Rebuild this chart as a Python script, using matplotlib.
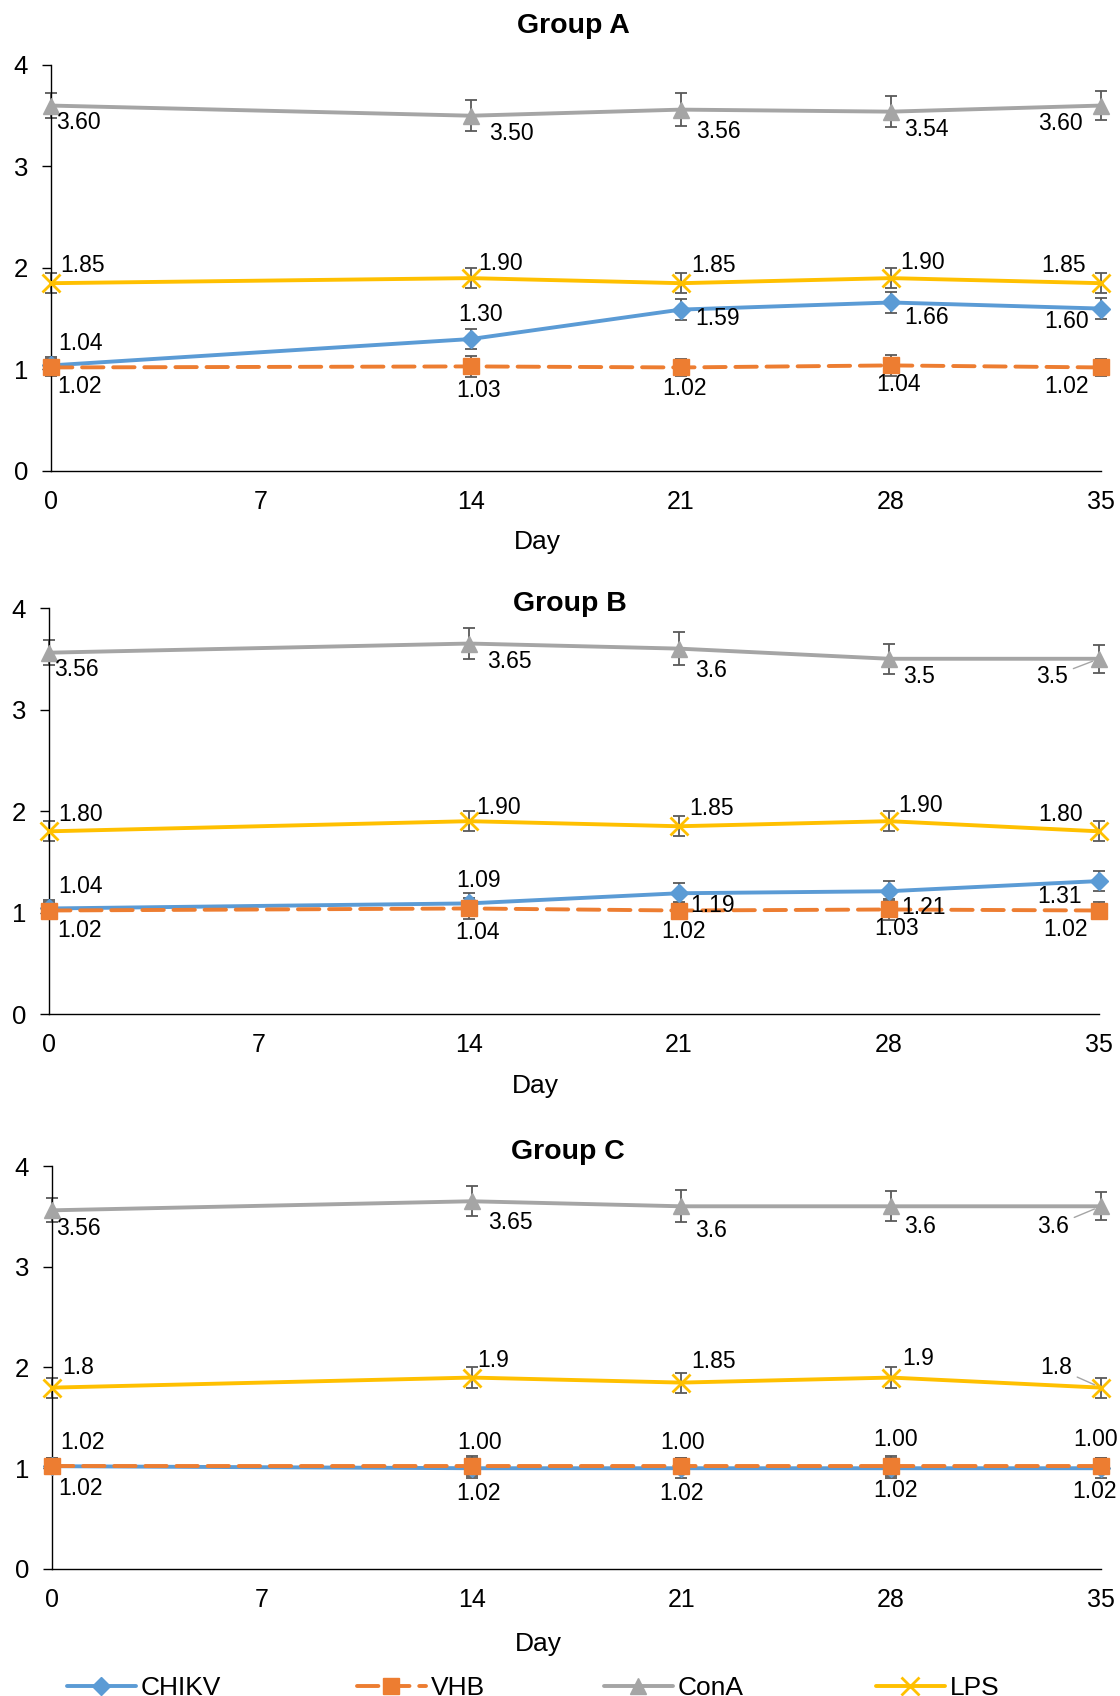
import matplotlib.pyplot as plt

plt.rcParams['font.family'] = ['Liberation Sans', 'DejaVu Sans']

days = [0, 14, 21, 28, 35]
xticks = [0, 7, 14, 21, 28, 35]
yticks = [0, 1, 2, 3, 4]
groups = ['Group A', 'Group B', 'Group C']
series = ['CHIKV', 'VHB', 'ConA', 'LPS']

# Group A
chikv_a = [1.04, 1.30, 1.59, 1.66, 1.60]
vhb_a = [1.02, 1.03, 1.02, 1.04, 1.02]
cona_a = [3.60, 3.50, 3.56, 3.54, 3.60]
lps_a = [1.85, 1.90, 1.85, 1.90, 1.85]
# Group B
chikv_b = [1.04, 1.09, 1.19, 1.21, 1.31]
vhb_b = [1.02, 1.04, 1.02, 1.03, 1.02]
cona_b = [3.56, 3.65, 3.6, 3.5, 3.5]
lps_b = [1.80, 1.90, 1.85, 1.90, 1.80]
# Group C
chikv_c = [1.02, 1.00, 1.00, 1.00, 1.00]
vhb_c = [1.02, 1.02, 1.02, 1.02, 1.02]
cona_c = [3.56, 3.65, 3.6, 3.6, 3.6]
lps_c = [1.8, 1.9, 1.85, 1.9, 1.8]

# error bars
chikv_err = [0.08, 0.10, 0.10, 0.10, 0.10]
vhb_err = [0.08, 0.10, 0.08, 0.10, 0.08]
cona_err = [0.12, 0.15, 0.16, 0.15, 0.14]
lps_err = [0.10, 0.10, 0.10, 0.10, 0.10]

data = {
    'Group A': {'CHIKV': chikv_a, 'VHB': vhb_a, 'ConA': cona_a, 'LPS': lps_a},
    'Group B': {'CHIKV': chikv_b, 'VHB': vhb_b, 'ConA': cona_b, 'LPS': lps_b},
    'Group C': {'CHIKV': chikv_c, 'VHB': vhb_c, 'ConA': cona_c, 'LPS': lps_c},
}
errs = {'CHIKV': chikv_err, 'VHB': vhb_err, 'ConA': cona_err, 'LPS': lps_err}

# label formats: Excel "general" where the source drops trailing zeros
general = {('Group B', 'ConA'), ('Group C', 'ConA'), ('Group C', 'LPS')}

styles = {
    'CHIKV': dict(color='#5B9BD5', marker='D', ms=9, lw=2.8, ls='-'),
    'VHB': dict(color='#ED7D31', marker='s', ms=12, lw=2.8, ls=(0, (5.5, 2.5))),
    'ConA': dict(color='#A5A5A5', marker='^', ms=12, lw=2.8, ls='-'),
    'LPS': dict(color='#FFC000', marker='x', ms=13, mew=2, lw=2.8, ls='-'),
}

# label centre offsets from the point, in pixels (+y is downward)
offs = {
    'Group A': {
        'ConA': [(27, 17), (40, 18), (37, 22), (35, 18), (-41, 18)],
        'LPS': [(32, -18), (30, -15), (33, -18), (32, -16), (-37, -18)],
        'CHIKV': [(30, -22), (10, -25), (37, 9), (36, 15), (-34, 13)],
        'VHB': [(29, 19), (8, 24), (4, 21), (8, 19), (-34, 19)],
    },
    'Group B': {
        'ConA': [(27, 17), (40, 18), (32, 22), (30, 18), (-47, 18)],
        'LPS': [(32, -17), (30, -14), (33, -18), (32, -16), (-38, -17)],
        'CHIKV': [(31, -22), (10, -23), (34, 12), (34, 16), (-39, 15)],
        'VHB': [(30, 20), (8, 24), (4, 21), (8, 19), (-34, 19)],
    },
    'Group C': {
        'ConA': [(26, 18), (39, 21), (30, 24), (29, 20), (-48, 20)],
        'LPS': [(26, -20), (22, -17), (32, -21), (27, -19), (-45, -20)],
        'CHIKV': [(31, -24), (8, -26), (1, -26), (4, -29), (-5, -29)],
        'VHB': [(29, 22), (7, 27), (0, 27), (4, 24), (-6, 25)],
    },
}
leaders = {('Group B', 'ConA', 4), ('Group C', 'ConA', 4), ('Group C', 'LPS', 4)}

# axes rectangles [left, bottom, width, height] in figure fraction
rects = {
    'Group A': [0.0455, 0.7223, 0.9375, 0.2394],
    'Group B': [0.0438, 0.4021, 0.9375, 0.2394],
    'Group C': [0.0464, 0.0749, 0.9366, 0.2376],
}
# title centres and "Day" label centres, in pixels from top-left
title_xy = {'Group A': (573, 26), 'Group B': (570, 604), 'Group C': (568, 1152)}
day_xy = {'Group A': (537, 542), 'Group B': (535, 1086), 'Group C': (538, 1644)}
# legend entry left edges, in pixels
legend_x = [67, 357, 604, 876]

W, H = 1120, 1696
fig = plt.figure(figsize=(W / 100, H / 100), dpi=100)
px = 0.72  # pixel -> point

handles = {}
for g in groups:
    ax = fig.add_axes(rects[g])
    for s in ['ConA', 'LPS', 'CHIKV', 'VHB']:
        y = data[g][s]
        st = styles[s]
        ax.errorbar(days, y, yerr=errs[s], fmt='none', ecolor='#595959',
                    elinewidth=1.3, capsize=4.5, capthick=1.3, zorder=2,
                    clip_on=False)
        ln, = ax.plot(days, y, color=st['color'], lw=st['lw'], ls=st['ls'],
                      marker=st['marker'], ms=st['ms'], mew=st.get('mew', 1),
                      mfc=st['color'], mec=st['color'], zorder=3,
                      clip_on=False, dash_capstyle='round',
                      solid_capstyle='round')
        handles[s] = ln
        for i, (d, v) in enumerate(zip(days, y)):
            txt = f'{v:g}' if (g, s) in general else f'{v:.2f}'
            dx, dy = offs[g][s][i]
            ap = None
            if (g, s, i) in leaders:
                ap = dict(arrowstyle='-', color='#A5A5A5', lw=1,
                          shrinkA=2, shrinkB=5)
            ax.annotate(txt, (d, v), xytext=(dx * px, -dy * px),
                        textcoords='offset points', ha='center', va='center',
                        fontsize=16.5, color='black', zorder=5,
                        arrowprops=ap)
    ax.set_xlim(0, 35)
    ax.set_ylim(0, 4)
    ax.set_xticks(xticks)
    ax.set_yticks(yticks)
    ax.tick_params(axis='x', length=0, pad=14, labelsize=18)
    ax.tick_params(axis='y', length=6.5, width=1, pad=10, labelsize=18.5)
    for sp in ['top', 'right']:
        ax.spines[sp].set_visible(False)
    for sp in ['left', 'bottom']:
        ax.spines[sp].set_linewidth(1)
    tx, ty = title_xy[g]
    fig.text(tx / W, 1 - ty / H, g, fontsize=20.5, fontweight='bold',
             ha='center', va='center')
    lx, ly = day_xy[g]
    fig.text(lx / W, 1 - ly / H, 'Day', fontsize=19, ha='center', va='center')

for s, x in zip(series, legend_x):
    fig.legend([handles[s]], [s], loc='center left',
               bbox_to_anchor=(x / W, 0.0045), frameon=False,
               fontsize=19, handlelength=2.6, handletextpad=0.2,
               borderpad=0, borderaxespad=0)

fig.savefig('out.png', dpi=100)
